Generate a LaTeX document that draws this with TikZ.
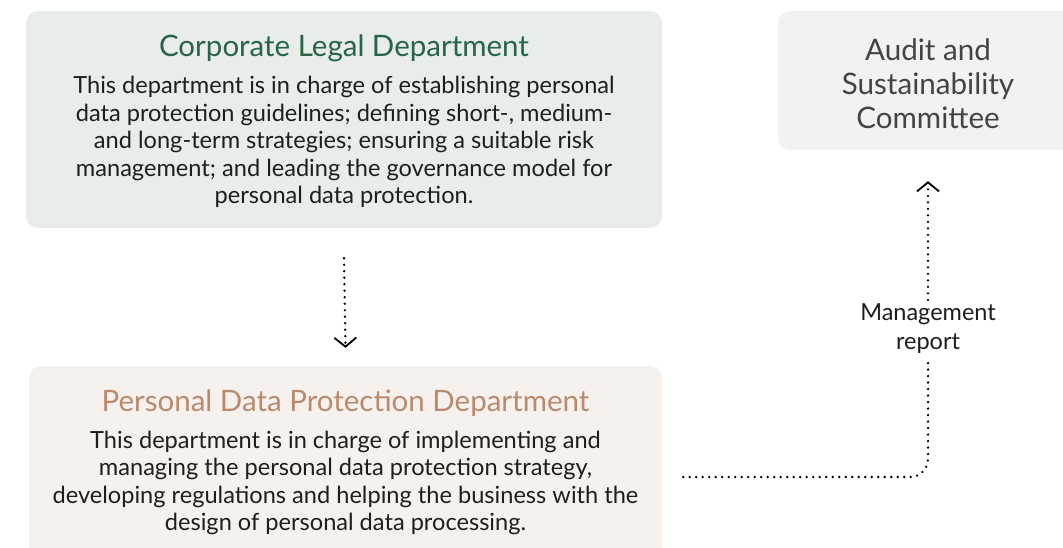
\documentclass[tikz,border=0pt]{standalone}
\usepackage{fontspec}
\setmainfont{Lato}
\usetikzlibrary{arrows.meta,positioning}
\definecolor{legalfill}{RGB}{232,236,234}
\definecolor{legalgreen}{RGB}{40,100,70}
\definecolor{pdpfill}{RGB}{247,241,238}
\definecolor{pdpbrown}{RGB}{185,138,110}
\definecolor{auditfill}{RGB}{242,242,242}
\definecolor{auditgrey}{RGB}{68,68,68}
\definecolor{bodyblack}{RGB}{30,30,30}
\tikzset{
  deptbox/.style={rounded corners=12pt, inner sep=0pt},
  depttitle/.style={font=\fontsize{29.5}{33}\selectfont, align=center},
  deptbody/.style={font=\fontsize{23.6}{27.5}\selectfont, align=center, text=bodyblack},
  dotline/.style={line width=2.6pt, line cap=round, dash pattern=on 0pt off 6.5pt},
  flowline/.style={dotline,
    -{Straight Barb[length=9pt,width=22pt,line width=1.8pt]}}
}
\begin{document}
\begin{tikzpicture}[x=1pt,y=-1pt]
\clip (0,0) rectangle (1063,547);
\fill[white] (0,0) rectangle (1063,547);

% boxes
\node[deptbox, fill=legalfill, minimum width=636pt, minimum height=217pt] (legal) at (344,119.5) {};
\node[deptbox, fill=auditfill, minimum width=300pt, minimum height=139pt] (audit) at (928,80.5) {};
\node[deptbox, fill=pdpfill, minimum width=633pt, minimum height=200pt] (pdp) at (345.5,466) {};

% texts
\node[depttitle, text=legalgreen] (legaltitle) at (344,48) {Corporate Legal Department};
\node[deptbody] (legalbody) at (344,142) {This department is in charge of establishing personal\\
data protection guidelines; defining short-, medium-\\
and long-term strategies; ensuring a suitable risk\\
management; and leading the governance model for\\
personal data protection.};
\node[font=\fontsize{29.6}{34}\selectfont, align=center, text=auditgrey] (audittext) at (928,84) {Audit and\\Sustainability\\Committee};
\node[depttitle, text=pdpbrown] (pdptitle) at (345.5,403) {Personal Data Protection Department};
\node[deptbody] (pdpbody) at (345.5,483) {This department is in charge of implementing and\\
managing the personal data protection strategy,\\
developing regulations and helping the business with the\\
design of personal data processing.};

% connectors
\node[font=\fontsize{23.5}{29}\selectfont, align=center, text=bodyblack, inner sep=4pt] (report) at (928,329) {Management\\report};
\coordinate (corner) at (928,477);
\draw[flowline] ([yshift=-30pt]legal.south) -- ([yshift=18pt]pdp.north);
\draw[dotline, rounded corners=18pt]
  ([xshift=21pt]pdp.east |- corner) -- (corner) -- (report.south);
\draw[flowline] (report.north) -- ([yshift=-31pt]audit.south);
\end{tikzpicture}
\end{document}
